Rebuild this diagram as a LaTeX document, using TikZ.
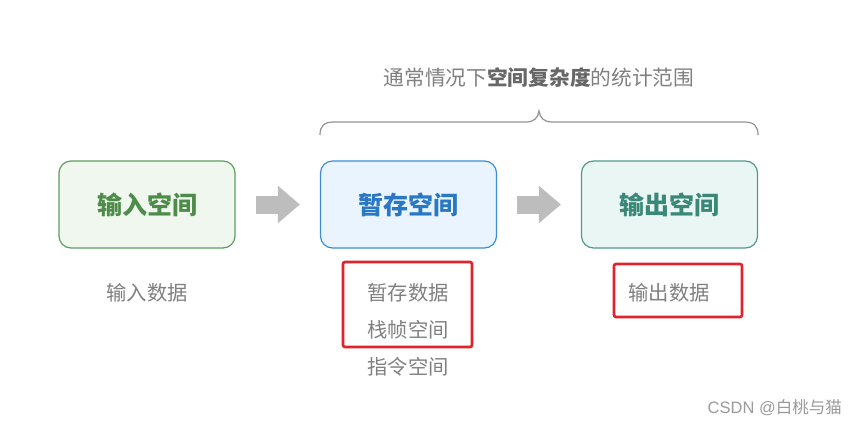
\documentclass[tikz,border=0pt]{standalone}
\usepackage{fontspec}
\setmainfont{Noto Sans CJK SC}
\newfontfamily\wmfont{Liberation Sans}
\usetikzlibrary{arrows.meta}
\definecolor{ingreen}{HTML}{5E9E5E}
\definecolor{infill}{HTML}{F0F7EF}
\definecolor{intext}{HTML}{4E8C4A}
\definecolor{tmpblue}{HTML}{3B8ED6}
\definecolor{tmpfill}{HTML}{EAF4FE}
\definecolor{tmptext}{HTML}{2A78C4}
\definecolor{outteal}{HTML}{4F9A8C}
\definecolor{outfill}{HTML}{EAF6F4}
\definecolor{outtext}{HTML}{3A8878}
\definecolor{labgray}{HTML}{808080}
\definecolor{arrgray}{HTML}{BDBDBD}
\definecolor{markred}{HTML}{E0232C}
\tikzset{
  spacebox/.style={rounded corners=12pt, line width=1.2pt, minimum width=176pt, minimum height=87pt, inner sep=0pt,
    font=\fontsize{25}{29}\selectfont\bfseries},
  lab/.style={text=labgray, font=\fontsize{20.3}{24}\selectfont, inner sep=0pt},
  blockarrow/.style={draw=arrgray, line width=18pt, -{Triangle[length=22pt,width=36pt]}},
  redmark/.style={draw=markred, line width=2.6pt, rounded corners=2pt, inner sep=0pt},
  bracepath/.style={draw=labgray!85, line width=1.2pt},
}
\begin{document}
\begin{tikzpicture}[x=1pt,y=-1pt]
\useasboundingbox (0,0) rectangle (858,425);
\fill[white] (0,0) rectangle (858,425);
% boxes
\node[spacebox, draw=ingreen, fill=infill, text=intext] (inbox) at (147,204.5) {输入空间};
\node[spacebox, draw=tmpblue, fill=tmpfill, text=tmptext] (tmpbox) at (408.5,204.5) {暂存空间};
\node[spacebox, draw=outteal, fill=outfill, text=outtext] (outbox) at (669.5,204.5) {输出空间};
% arrows
\draw[blockarrow] ([xshift=20pt]inbox.east) -- ([xshift=-20pt]tmpbox.west);
\draw[blockarrow] ([xshift=20pt]tmpbox.east) -- ([xshift=-20pt]outbox.west);
% brace
\draw[bracepath] (320,135) .. controls (320,126) and (324,122) .. (334,122)
  -- (526,122) .. controls (534,122) and (538,118) .. (539,111)
  .. controls (540,118) and (544,122) .. (552,122)
  -- (744,122) .. controls (754,122) and (758,126) .. (758,135);
\node[text=labgray, font=\fontsize{20.7}{25}\selectfont, inner sep=0pt] (title) at (539,78)
  {通常情况下\textcolor{labgray!80!black}{\bfseries 空间复杂度}的统计范围};
% labels
\node[lab] (indata) at (147,293) {输入数据};
\node[lab] (tmpdata) at (408,293) {暂存数据};
\node[lab] (frame) at (408,330) {栈帧空间};
\node[lab] (instr) at (408,367) {指令空间};
\node[lab] (outdata) at (669,293) {输出数据};
% red marks
\draw[redmark] (343,262) rectangle (472,347);
\draw[redmark] (614,264) rectangle (742,317);
% watermark
\node[text=labgray!80, font=\fontsize{16.5}{20}\selectfont, inner sep=0pt, anchor=east] (wm) at (842,408)
  {\wmfont CSDN @\normalfont 白桃与猫};
\end{tikzpicture}
\end{document}
